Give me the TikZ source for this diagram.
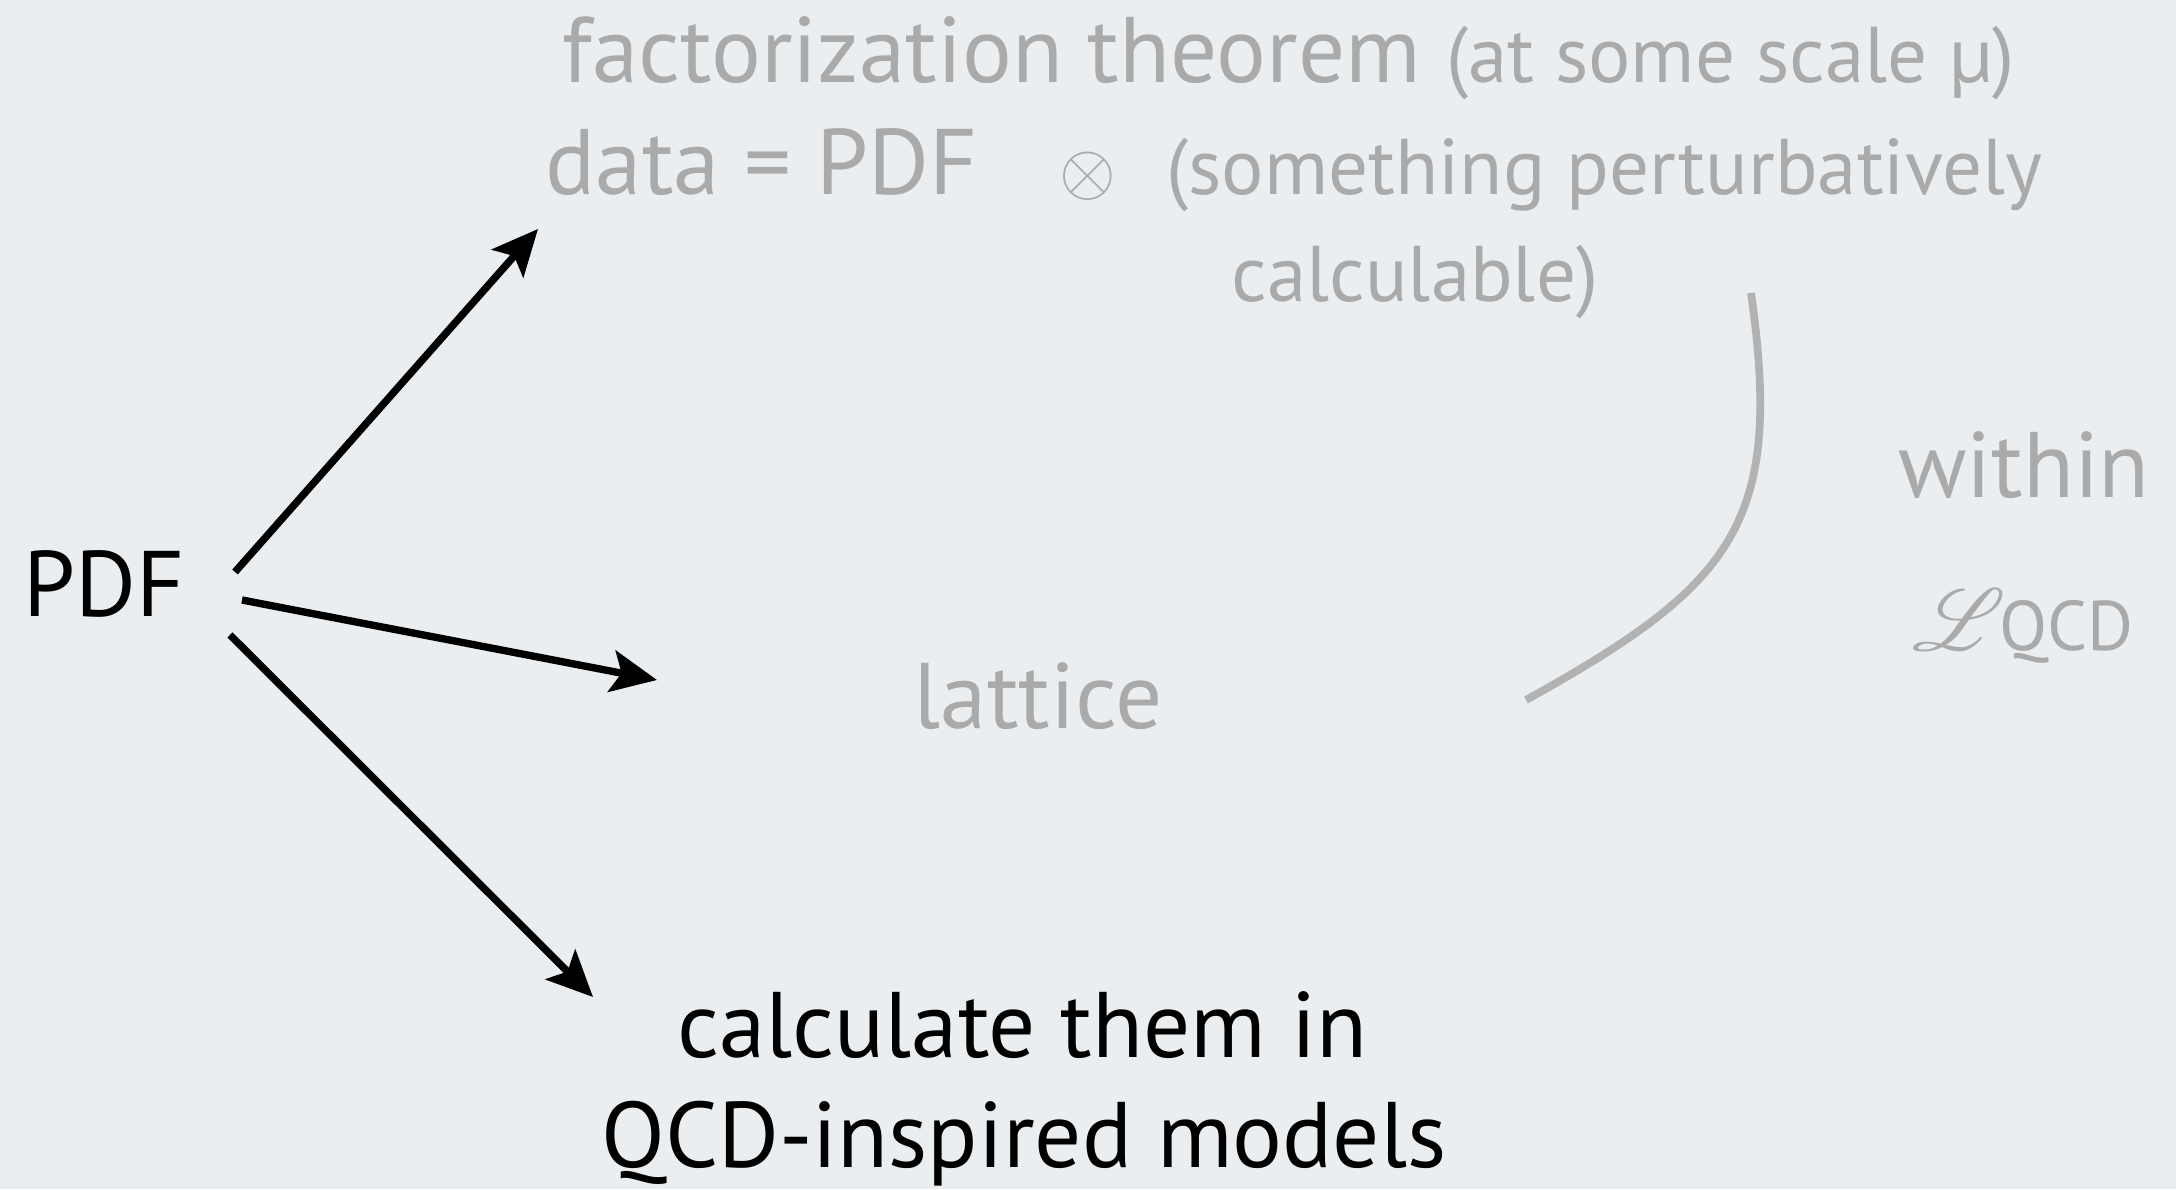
\documentclass[tikz,border=0pt]{standalone}
\usepackage{fontspec}
\setmainfont{PT Sans}
\usepackage{amsmath,amssymb}
\usepackage{mathrsfs}
\usepackage{xcolor}
\usepackage{tikz}
\usetikzlibrary{positioning,arrows.meta}
\definecolor{slidebg}{RGB}{235,238,241}
\definecolor{paletext}{RGB}{170,170,170}
\definecolor{arcgray}{RGB}{178,178,178}
\newcommand{\sidefont}{\fontsize{22.5}{27}\selectfont}

\begin{document}
\begin{tikzpicture}[
  font=\fontsize{26.5}{32}\selectfont,
  txt/.style={inner sep=0pt, anchor=base},
  pale/.style={txt, text=paletext},
  dark/.style={txt, text=black},
  arr/.style={-{Stealth[length=4.6mm, width=4.2mm, inset=1mm]}, line width=2.1pt},
]
\fill[slidebg] (0,0) rectangle (21.76,11.89);
\useasboundingbox (0,0) rectangle (21.76,11.89);

% left source
\node[dark] (pdf) at (1.04,5.72) {PDF};

% targets
\node[pale, anchor=base west] (fact) at (5.62,11.06) {factorization theorem {\sidefont (at some scale µ)}};
\node[pale, anchor=base west] (data) at (5.45,9.94) {data = PDF\hspace{0.82cm}{\fontsize{21}{24}\selectfont$\otimes$}\hspace{0.5cm}{\sidefont (something perturbatively}};
\node[pale] (calc) at (14.15,8.87) {\sidefont calculable)};
\node[pale] (lattice) at (10.38,4.60) {lattice};
\node[dark] (calcthem) at (10.22,1.31) {calculate them in};
\node[dark] (models) at (10.24,0.22) {QCD-inspired models};

% side remark
\node[pale] (within) at (20.24,6.91) {within};
\node[pale] (lqcd) at (20.23,5.38) {{\fontsize{31}{36}\selectfont$\mathscr{L}$}\kern-2pt{\fontsize{20}{24}\selectfont QCD}};

% arrow ends
\coordinate (tail1) at (2.35,6.17);
\coordinate (head1) at (5.38,9.60);
\coordinate (tail2) at (2.42,5.89);
\coordinate (head2) at (6.57,5.09);
\coordinate (tail3) at (2.30,5.54);
\coordinate (head3) at (5.93,1.92);
\draw[arr] (tail1) -- (head1);
\draw[arr] (tail2) -- (head2);
\draw[arr] (tail3) -- (head3);

% bracket
\coordinate (arctop) at (17.51,8.96);
\coordinate (arcbot) at (15.26,4.89);
\draw[arcgray, line width=2.2pt] (arctop) .. controls (17.84,6.65) and (17.33,6.04) .. (arcbot);
\end{tikzpicture}
\end{document}
